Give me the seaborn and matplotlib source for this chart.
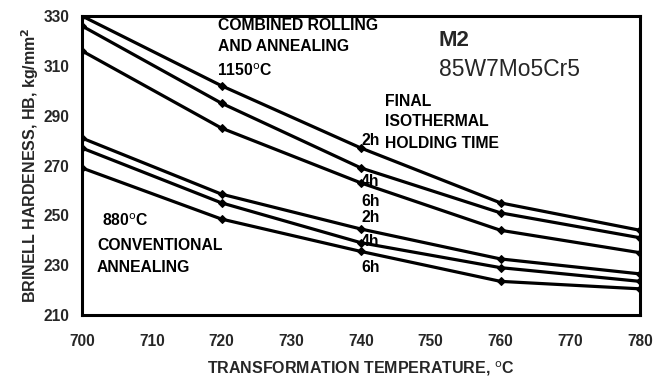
import matplotlib
matplotlib.use("Agg")
import matplotlib.pyplot as plt
import seaborn as sns
import pandas as pd

temps = [700, 720, 740, 760, 780]
crr_2h = [330, 302, 277, 255, 244]
crr_4h = [326, 295, 269, 251, 241]
crr_6h = [316, 285, 263, 244, 235]
conv_2h = [281, 258.5, 244.5, 232.5, 226.5]
conv_4h = [277, 255, 239, 229, 223.5]
conv_6h = [269, 248.5, 235.5, 223.5, 220.5]

series = {
    "crr_2h": crr_2h, "crr_4h": crr_4h, "crr_6h": crr_6h,
    "conv_2h": conv_2h, "conv_4h": conv_4h, "conv_6h": conv_6h,
}
rows = []
for name, vals in series.items():
    for t, v in zip(temps, vals):
        rows.append({"T": t, "HB": v, "series": name})
df = pd.DataFrame(rows)

sns.set_style("white")
plt.rcParams['font.family'] = ['Liberation Sans', 'DejaVu Sans']

fig = plt.figure(figsize=(6.62, 3.82), dpi=100)
ax = fig.add_axes([82/662, 1-315/382, (640-82)/662, (315-16)/382])

sns.lineplot(data=df, x="T", y="HB", units="series", estimator=None,
             color="black", lw=2.3, marker="D", markersize=4,
             markeredgecolor="black", ax=ax, legend=False)

ax.set_xlim(700, 780)
ax.set_ylim(210, 330)
ax.set_xticks(range(700, 781, 10))
ax.set_yticks(range(210, 331, 20))
for lab in ax.get_xticklabels() + ax.get_yticklabels():
    lab.set_fontweight("bold")
    lab.set_fontsize(11.2)
ax.tick_params(axis="x", direction="inout", length=5, width=1.5, pad=11)
ax.tick_params(axis="y", direction="out", length=4, width=1.5, pad=5)
for s in ax.spines.values():
    s.set_visible(True)
    s.set_linewidth(2.2)
    s.set_color("black")

ax.set_xlabel("TRANSFORMATION TEMPERATURE, $^{\\mathrm{o}}$C", fontsize=11.5,
              fontweight="bold", labelpad=8)
ax.set_ylabel("BRINELL HARDENESS, HB, kg/mm$^{\\mathbf{2}}$", fontsize=11.5,
              fontweight="bold", labelpad=2)

kw = dict(fontsize=11.3, fontweight="bold", color="black", va="center")
def fx(px):
    return 700 + (px - 82) * 80 / (640 - 82)
def fy(py):
    return 330 - (py - 16) * 120 / (315 - 16)

ax.text(fx(218), fy(25), "COMBINED ROLLING", **kw)
ax.text(fx(218), fy(47), "AND ANNEALING", **kw)
ax.text(fx(217), fy(71), "1150$^{\\mathrm{o}}$C", **kw)
ax.text(fx(439), fy(41), "M2", fontsize=16, fontweight="bold", va="center")
ax.text(fx(439), fy(69), "85W7Mo5Cr5", fontsize=16.5, va="center")
ax.text(fx(385), fy(102), "FINAL", **kw)
ax.text(fx(385), fy(122), "ISOTHERMAL", **kw)
ax.text(fx(385), fy(143), "HOLDING TIME", **kw)
for lbl, py in [("2h", 140), ("4h", 181), ("6h", 201), ("2h", 218), ("4h", 241), ("6h", 268)]:
    ax.text(fx(361), fy(py), lbl, **kw)
ax.text(fx(102), fy(221), "880$^{\\mathrm{o}}$C", **kw)
ax.text(fx(97), fy(245), "CONVENTIONAL", **kw)
ax.text(fx(97), fy(267), "ANNEALING", **kw)

fig.savefig("out.png", dpi=100)
